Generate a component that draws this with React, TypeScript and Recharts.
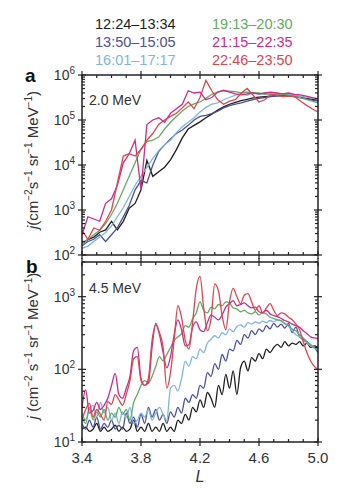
import React from "react";
import { LineChart, Line, XAxis, YAxis, Legend } from "recharts";

// series names (time intervals) in drawing order
const SERIES_NAMES = [
  "12:24–13:34",
  "13:50–15:05",
  "16:01–17:17",
  "19:13–20:30",
  "21:15–22:35",
  "22:46–23:50",
];
const SERIES_COLORS = ["#1e1e1e", "#4b4f9d", "#7db6e4", "#62ad62", "#d2288c", "#e2434e"];

// axis ticks
const L_TICKS = [3.4, 3.5, 3.6, 3.7, 3.8, 3.9, 4.0, 4.1, 4.2, 4.3, 4.4, 4.5, 4.6, 4.7, 4.8, 4.9, 5.0];
const L_LABELS = [3.4, 3.8, 4.2, 4.6, 5.0];
const A_Y_TICKS = [
  100, 200, 300, 400, 500, 600, 700, 800, 900, 1e3, 2e3, 3e3, 4e3, 5e3, 6e3, 7e3, 8e3, 9e3, 1e4, 2e4, 3e4,
  4e4, 5e4, 6e4, 7e4, 8e4, 9e4, 1e5, 2e5, 3e5, 4e5, 5e5, 6e5, 7e5, 8e5, 9e5, 1e6,
];
const B_Y_TICKS = [10, 20, 30, 40, 50, 60, 70, 80, 90, 100, 200, 300, 400, 500, 600, 700, 800, 900, 1000, 2000, 3000];

// ---- panel a : 2.0 MeV ----
const L_A = [
  3.4, 3.44, 3.48, 3.52, 3.56, 3.6, 3.64, 3.68, 3.72, 3.76, 3.8, 3.84, 3.88, 3.92, 3.96, 4.0, 4.04, 4.08, 4.12,
  4.16, 4.2, 4.24, 4.28, 4.32, 4.36, 4.4, 4.44, 4.48, 4.52, 4.56, 4.6, 4.64, 4.68, 4.72, 4.76, 4.8, 4.84, 4.88,
  4.92, 4.96, 5.0,
];
const A_1224 = [
  180, 220, 250, 320, 360, 560, 360, 560, 1100, 1400, 2800, 12600, 5600, 7100, 8900, 13000, 22000, 40000, 63000,
  76000, 91000, 112000, 135000, 166000, 195000, 224000, 245000, 269000, 288000, 309000, 324000, 331000, 339000,
  347000, 347000, 339000, 331000, 316000, 302000, 288000, 275000,
];
const A_1350 = [
  160, 200, 224, 282, 200, 282, 400, 710, 1260, 2800, 4500, 4000, 10000, 20000, 28000, 38000, 50000, 60000, 76000,
  100000, 120000, 126000, 138000, 158000, 186000, 209000, 224000, 240000, 263000, 282000, 302000, 316000, 331000,
  339000, 347000, 347000, 331000, 316000, 295000, 275000, 263000,
];
const A_1601 = [
  141, 158, 200, 251, 316, 447, 708, 1120, 2000, 3550, 5620, 8900, 14100, 20900, 28200, 35500, 52500, 70800, 89100,
  112000, 151000, 191000, 224000, 240000, 282000, 316000, 355000, 380000, 355000, 398000, 372000, 398000, 372000,
  389000, 380000, 372000, 355000, 339000, 324000, 309000, 288000,
];
const A_1913 = [
  178, 224, 282, 355, 501, 794, 1410, 2820, 5620, 11200, 22400, 33100, 35500, 41700, 63100, 89100, 120000, 158000,
  200000, 229000, 251000, 302000, 372000, 417000, 447000, 437000, 427000, 398000, 417000, 398000, 398000, 372000,
  380000, 363000, 380000, 355000, 331000, 316000, 288000, 263000, 240000,
];
const A_2115 = [
  282, 708, 631, 562, 1410, 1780, 3550, 11200, 17800, 35500, 2820, 79400, 100000, 112000, 89100, 141000, 178000,
  224000, 447000, 398000, 417000, 282000, 316000, 417000, 457000, 417000, 380000, 363000, 380000, 398000, 380000,
  398000, 417000, 398000, 380000, 398000, 372000, 363000, 339000, 316000, 295000,
];
const A_2246 = [
  355, 224, 398, 355, 562, 1000, 3980, 15800, 17800, 15800, 22400, 35500, 50100, 79400, 100000, 120000, 141000,
  186000, 251000, 178000, 316000, 759000, 447000, 282000, 224000, 263000, 282000, 398000, 501000, 355000, 251000,
  282000, 372000, 355000, 331000, 339000, 339000, 263000, 214000, 178000, 151000,
];

// ---- panel b : 4.5 MeV ----
const L_B = [
  3.4, 3.425, 3.45, 3.475, 3.5, 3.525, 3.55, 3.575, 3.6, 3.625, 3.65, 3.675, 3.7, 3.725, 3.75, 3.775, 3.8, 3.825,
  3.85, 3.875, 3.9, 3.925, 3.95, 3.975, 4.0, 4.025, 4.05, 4.075, 4.1, 4.125, 4.15, 4.175, 4.2, 4.225, 4.25, 4.275,
  4.3, 4.325, 4.35, 4.375, 4.4, 4.425, 4.45, 4.475, 4.5, 4.525, 4.55, 4.575, 4.6, 4.625, 4.65, 4.675, 4.7, 4.725,
  4.75, 4.775, 4.8, 4.825, 4.85, 4.875, 4.9, 4.925, 4.95, 4.975, 5.0,
];
const B_1224 = [
  15, 16, 14, 15, 18, 14, 16, 14, 15, 17, 14, 16, 14, 15, 20, 14, 16, 14, 18, 14, 16, 14, 18, 14, 16, 14, 20, 18,
  24, 20, 30, 26, 38, 30, 48, 40, 30, 60, 45, 85, 55, 95, 45, 105, 130, 95, 145, 130, 165, 140, 190, 170, 200, 220,
  200, 240, 210, 230, 220, 240, 210, 230, 200, 210, 200,
];
const B_1350 = [
  18, 15, 20, 16, 22, 15, 18, 16, 20, 15, 17, 15, 25, 18, 22, 16, 24, 18, 30, 22, 28, 20, 24, 18, 26, 22, 30, 25,
  40, 35, 45, 40, 60, 55, 90, 80, 120, 100, 160, 130, 190, 180, 250, 220, 300, 270, 340, 300, 360, 330, 400, 360,
  430, 380, 420, 370, 430, 320, 380, 280, 260, 240, 210, 200, 170,
];
const B_1601 = [
  25, 20, 28, 32, 22, 35, 25, 30, 20, 25, 18, 26, 22, 30, 18, 20, 25, 22, 28, 20, 25, 30, 24, 20, 55, 60, 50, 75,
  130, 110, 150, 140, 190, 170, 230, 260, 290, 270, 320, 300, 360, 330, 390, 410, 380, 440, 420, 450, 430, 460,
  440, 470, 450, 480, 460, 420, 390, 340, 300, 280, 250, 230, 210, 195, 185,
];
const B_1913 = [
  22, 18, 30, 20, 26, 22, 28, 20, 25, 22, 30, 24, 28, 20, 35, 45, 60, 70, 65, 80, 110, 150, 130, 160, 200, 250,
  280, 310, 400, 380, 500, 600, 850, 650, 600, 720, 680, 780, 750, 850, 820, 700, 680, 620, 650, 600, 580, 620,
  560, 600, 580, 520, 500, 480, 470, 430, 400, 360, 340, 300, 270, 240, 220, 200, 190,
];
const B_2115 = [
  30, 52, 25, 27, 35, 28, 32, 40, 60, 88, 45, 40, 55, 80, 180, 200, 75, 60, 65, 200, 430, 300, 170, 105, 150, 300,
  480, 350, 210, 220, 380, 450, 350, 330, 440, 560, 520, 480, 560, 720, 800, 880, 750, 780, 820, 750, 700, 720,
  620, 600, 650, 580, 550, 530, 500, 470, 450, 420, 400, 380, 340, 310, 280, 270, 265,
];
const B_2246 = [
  20, 28, 34, 22, 28, 24, 20, 36, 33, 45, 38, 32, 45, 70, 140, 150, 70, 60, 75, 250, 410, 320, 200, 55, 90, 260,
  750, 520, 250, 190, 450, 1300, 1900, 700, 340, 500, 1500, 1200, 550, 350, 850, 1300, 1000, 800, 1050, 1100, 850,
  650, 750, 600, 700, 800, 650, 550, 600, 580, 520, 480, 420, 350, 240, 170, 130, 110, 100,
];

const KEYS = ["s0", "s1", "s2", "s3", "s4", "s5"];
const A_SERIES = [A_1224, A_1350, A_1601, A_1913, A_2115, A_2246];
const B_SERIES = [B_1224, B_1350, B_1601, B_1913, B_2115, B_2246];

const buildRows = (ls: number[], series: number[][]) =>
  ls.map((L, i) => {
    const row: { [k: string]: number } = { L };
    series.forEach((s, j) => (row[KEYS[j]] = s[i]));
    return row;
  });

const dataA = buildRows(L_A, A_SERIES);
const dataB = buildRows(L_B, B_SERIES);

const FONT = '"Liberation Sans", Arial, Helvetica, sans-serif';
const AXIS = "#222";
const TEXT = "#333";

// custom tick: major ticks cross the frame, minor ticks point inward
const xTick = (side: "top" | "bottom", labels: boolean) => (props: any) => {
  const { x, y, payload } = props;
  const v = payload.value;
  const major = L_LABELS.some((m) => Math.abs(m - v) < 1e-6);
  const inward = side === "bottom" ? -1 : 1;
  return (
    <g>
      <line
        x1={x}
        x2={x}
        y1={major ? y - 4 : y}
        y2={major ? y + 4 : y + inward * 3}
        stroke={AXIS}
        strokeWidth={1.2}
      />
      {major && labels && (
        <text x={x} y={y + 21} textAnchor="middle" fontSize={15} fill={TEXT}>
          {v.toFixed(1)}
        </text>
      )}
    </g>
  );
};

const yTick = (side: "left" | "right", labels: boolean) => (props: any) => {
  const { x, y, payload } = props;
  const v = payload.value;
  const exp = Math.log10(v);
  const major = Math.abs(exp - Math.round(exp)) < 1e-6;
  const inward = side === "left" ? 1 : -1;
  return (
    <g>
      <line
        x1={major ? x - 4 : x}
        x2={major ? x + 4 : x + inward * 3}
        y1={y}
        y2={y}
        stroke={AXIS}
        strokeWidth={1.2}
      />
      {major && labels && (
        <text x={x - 7} y={y + 5} textAnchor="end" fontSize={14} fill={TEXT}>
          10
          <tspan dy={-6} fontSize={10}>
            {Math.round(exp)}
          </tspan>
        </text>
      )}
    </g>
  );
};

const renderLegend = (props: any) => {
  const items = props.payload || [];
  return (
    <div
      style={{
        display: "grid",
        gridTemplateColumns: "117px 117px",
        gridTemplateRows: "18px 18px 18px",
        gridAutoFlow: "column",
        fontFamily: FONT,
        fontSize: 14.5,
        lineHeight: "18px",
      }}
    >
      {items.map((it: any) => (
        <div key={it.value} style={{ color: it.color, whiteSpace: "nowrap" }}>
          {it.value}
        </div>
      ))}
    </div>
  );
};

const axisLine = { stroke: AXIS, strokeWidth: 1.5 };

function Panel({
  data,
  yDomain,
  yTicks,
  height,
  margin,
  bottomHeight,
  showXLabels,
  smooth,
  withLegend,
}: {
  data: { [k: string]: number }[];
  yDomain: [number, number];
  yTicks: number[];
  height: number;
  margin: { top: number; right: number; bottom: number; left: number };
  bottomHeight: number;
  showXLabels: boolean;
  smooth: boolean;
  withLegend: boolean;
}) {
  return (
    <LineChart width={347} height={height} data={data} margin={margin}>
      <XAxis
        dataKey="L"
        type="number"
        domain={[3.4, 5.0]}
        ticks={L_TICKS}
        interval={0}
        height={bottomHeight}
        tickSize={0}
        tickMargin={0}
        axisLine={axisLine}
        tick={xTick("bottom", showXLabels)}
        allowDataOverflow
      />
      <XAxis
        xAxisId="t"
        orientation="top"
        dataKey="L"
        type="number"
        domain={[3.4, 5.0]}
        ticks={L_TICKS}
        interval={0}
        height={10}
        tickSize={0}
        tickMargin={0}
        axisLine={axisLine}
        tick={xTick("top", false)}
        allowDataOverflow
      />
      <YAxis
        type="number"
        scale="log"
        domain={yDomain}
        ticks={yTicks}
        interval={0}
        width={82}
        tickSize={0}
        tickMargin={0}
        axisLine={axisLine}
        tick={yTick("left", true)}
        allowDataOverflow
      />
      <YAxis
        yAxisId="r"
        orientation="right"
        type="number"
        scale="log"
        domain={yDomain}
        ticks={yTicks}
        interval={0}
        width={29}
        tickSize={0}
        tickMargin={0}
        axisLine={axisLine}
        tick={yTick("right", false)}
        allowDataOverflow
      />
      {withLegend && (
        <Legend
          verticalAlign="middle"
          align="center"
          layout="horizontal"
          content={renderLegend}
          wrapperStyle={{ top: 15, left: 95, width: 240, height: 56 }}
        />
      )}
      {KEYS.map((k, j) => (
        <Line
          key={k}
          dataKey={k}
          name={SERIES_NAMES[j]}
          stroke={SERIES_COLORS[j]}
          strokeWidth={1.3}
          dot={false}
          type={smooth ? "monotone" : "linear"}
          isAnimationActive={false}
        />
      ))}
    </LineChart>
  );
}

const YLabel = ({ cx, cy, spaced }: { cx: number; cy: number; spaced: boolean }) => {
  const sp = spaced ? " " : "";
  return (
    <text
      x={cx}
      y={cy}
      transform={`rotate(-90, ${cx}, ${cy})`}
      textAnchor="middle"
      fontSize={15}
      fill={TEXT}
    >
      <tspan fontStyle="italic">j</tspan>
      <tspan>{sp}(cm</tspan>
      <tspan dy={-6} fontSize={10}>
        −2
      </tspan>
      <tspan dy={6}>{sp}s</tspan>
      <tspan dy={-6} fontSize={10}>
        −1
      </tspan>
      <tspan dy={6}> sr</tspan>
      <tspan dy={-6} fontSize={10}>
        −1
      </tspan>
      <tspan dy={6}> MeV</tspan>
      <tspan dy={-6} fontSize={10}>
        −1
      </tspan>
      <tspan dy={6}>)</tspan>
    </text>
  );
};

export default function App() {
  return (
    <div
      style={{
        position: "absolute",
        left: 0,
        top: 0,
        width: 347,
        height: 489,
        background: "#fff",
        fontFamily: FONT,
        overflow: "hidden",
      }}
    >
      <div style={{ position: "absolute", left: 0, top: 252 }}>
        <Panel
          data={dataB}
          yDomain={[10, 3000]}
          yTicks={B_Y_TICKS}
          height={237}
          margin={{ top: 0, right: 0, bottom: 0, left: 0 }}
          bottomHeight={47}
          showXLabels
          smooth
          withLegend={false}
        />
      </div>
      <div style={{ position: "absolute", left: 0, top: 0, pointerEvents: "none" }}>
        <Panel
          data={dataA}
          yDomain={[100, 1e6]}
          yTicks={A_Y_TICKS}
          height={272}
          margin={{ top: 65, right: 0, bottom: 12, left: 0 }}
          bottomHeight={5}
          showXLabels={false}
          smooth={false}
          withLegend
        />
      </div>
      <svg
        width={347}
        height={489}
        style={{ position: "absolute", left: 0, top: 0, pointerEvents: "none" }}
      >
        <text x={25} y={82} fontSize={19} fontWeight="bold" fill="#111">
          a
        </text>
        <text x={26} y={273} fontSize={19} fontWeight="bold" fill="#111">
          b
        </text>
        <text x={89} y={105} fontSize={14} fill={TEXT}>
          2.0 MeV
        </text>
        <text x={89} y={293} fontSize={14} fill={TEXT}>
          4.5 MeV
        </text>
        <YLabel cx={38} cy={160} spaced={false} />
        <YLabel cx={38} cy={346} spaced />
        <text x={200} y={482} textAnchor="middle" fontSize={16} fontStyle="italic" fill={TEXT}>
          L
        </text>
      </svg>
    </div>
  );
}
